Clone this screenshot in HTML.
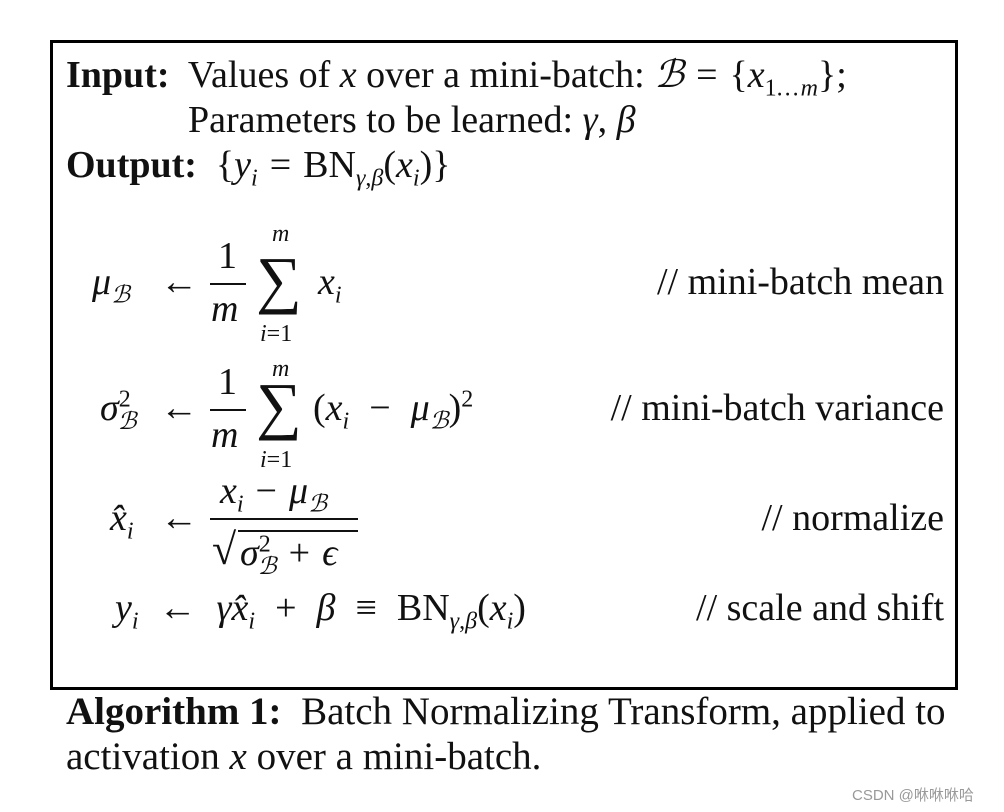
<!DOCTYPE html>
<html><head><meta charset="utf-8"><style>
body{margin:0;width:1004px;height:812px;background:#fff;position:relative;overflow:hidden;font-family:"Liberation Serif",serif;color:#111}
.a{position:absolute;font-size:38px;line-height:1;white-space:nowrap}
i{font-style:italic}
sub,sup{font-size:24px;line-height:0}
b{font-weight:bold}
.box{position:absolute;left:50px;top:40px;width:902px;height:644px;border:3px solid #000}
.sm{font-size:24px}
.sum{font-size:64px}
.bar{position:absolute;height:2px;background:#111}
.s{display:inline-block;width:12px}
.t{display:inline-block;width:20px}
</style></head><body>
<div class="box"></div>
<div class="a" style="left:66px;top:56px"><b>Input:</b>&nbsp; Values of <i>x</i> over a mini-batch: <i>&#x212C;</i><span class="s"></span>=<span class="s"></span>{<i>x</i><sub>1<span style="letter-spacing:2px">...</span><i>m</i></sub>};</div>
<div class="a" style="left:188px;top:101px">Parameters to be learned: <i>γ</i>, <i>β</i></div>
<div class="a" style="left:66px;top:146px"><b>Output:</b>&nbsp; {<i>y<sub>i</sub></i><span class="s"></span>=<span class="s"></span>BN<sub><i>γ</i>,<i>β</i></sub>(<i>x<sub>i</sub></i>)}</div>

<!-- mu row -->
<div class="a" style="left:92px;top:263px"><i>μ</i><sub><i>&#x212C;</i></sub></div>
<div class="a" style="left:160px;top:263px">←</div>
<div class="a" style="left:218px;top:237px">1</div>
<div class="bar" style="left:210px;top:283px;width:36px"></div>
<div class="a" style="left:211px;top:290px"><i>m</i></div>
<div class="a sm" style="left:272px;top:222px"><i>m</i></div>
<div class="a sum" style="left:256px;top:248px">∑</div>
<div class="a sm" style="left:260px;top:322px"><i>i</i>=1</div>
<div class="a" style="left:318px;top:263px"><i>x<sub>i</sub></i></div>
<div class="a" style="right:60px;top:263px">// mini-batch mean</div>

<!-- sigma row -->
<div class="a" style="left:100px;top:389px"><i>σ</i><sup>2</sup><sub style="margin-left:-13px"><i>&#x212C;</i></sub></div>
<div class="a" style="left:160px;top:389px">←</div>
<div class="a" style="left:218px;top:363px">1</div>
<div class="bar" style="left:210px;top:409px;width:36px"></div>
<div class="a" style="left:211px;top:416px"><i>m</i></div>
<div class="a sm" style="left:272px;top:357px"><i>m</i></div>
<div class="a sum" style="left:256px;top:374px">∑</div>
<div class="a sm" style="left:260px;top:448px"><i>i</i>=1</div>
<div class="a" style="left:313px;top:389px">(<i>x<sub>i</sub></i><span class="t"></span>−<span class="t"></span><i>μ</i><sub><i>&#x212C;</i></sub>)<sup>2</sup></div>
<div class="a" style="right:60px;top:389px">// mini-batch variance</div>

<!-- xhat row -->
<div class="a" style="left:110px;top:499px"><i>x̂<sub>i</sub></i></div>
<div class="a" style="left:160px;top:499px">←</div>
<div class="a" style="left:220px;top:472px"><i>x<sub>i</sub></i><span class="s"></span>−<span class="s"></span><i>μ</i><sub><i>&#x212C;</i></sub></div>
<div class="bar" style="left:210px;top:518px;width:148px"></div>
<div class="a" style="left:212px;top:528px;font-size:44px">√</div>
<div class="bar" style="left:238px;top:530px;width:120px;height:1.5px"></div>
<div class="a" style="left:240px;top:534px"><i>σ</i><sup>2</sup><sub style="margin-left:-13px"><i>&#x212C;</i></sub><span class="s"></span>+<span class="s"></span><i>ϵ</i></div>
<div class="a" style="right:60px;top:499px">// normalize</div>

<!-- y row -->
<div class="a" style="left:115px;top:589px"><i>y<sub>i</sub></i><span class="t"></span>←<span class="t"></span><i>γx̂<sub>i</sub></i><span class="t"></span>+<span class="t"></span><i>β</i><span class="t"></span>≡<span class="t"></span>BN<sub><i>γ</i>,<i>β</i></sub>(<i>x<sub>i</sub></i>)</div>
<div class="a" style="right:60px;top:589px">// scale and shift</div>

<div class="a" style="left:66px;top:692px;font-size:39px"><b>Algorithm 1:</b>&nbsp; Batch Normalizing Transform, applied to</div>
<div class="a" style="left:66px;top:737px;font-size:39px">activation <i>x</i> over a mini-batch.</div>
<div style="position:absolute;left:852px;top:784px;font:15px 'Liberation Sans','Noto Sans CJK SC',sans-serif;color:#999">CSDN @咻咻咻哈</div>
</body></html>
